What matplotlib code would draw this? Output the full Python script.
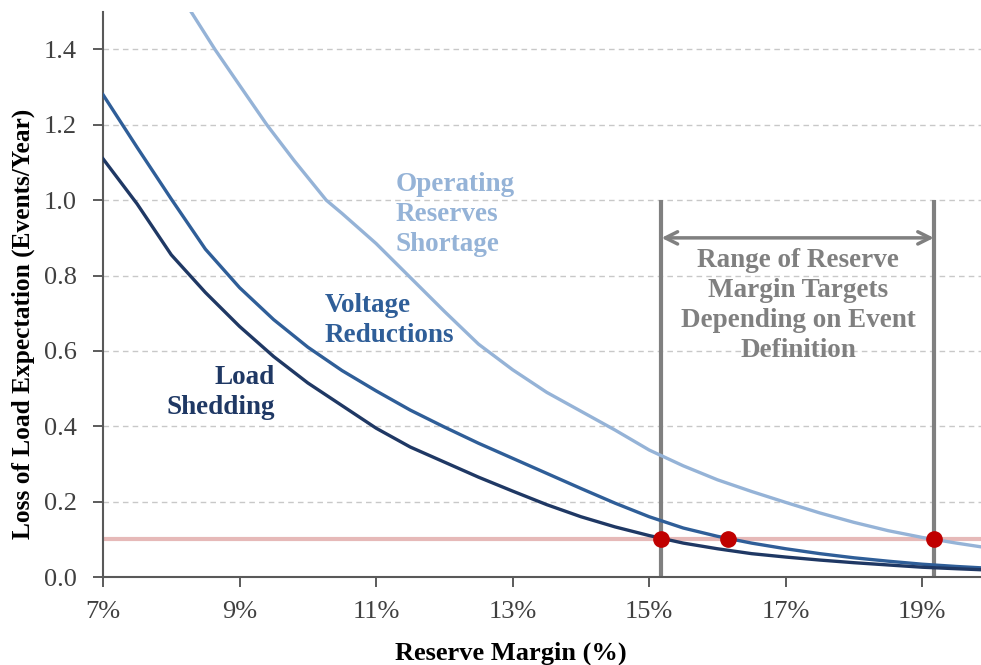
import matplotlib
matplotlib.use('Agg')
import matplotlib.pyplot as plt

plt.rcParams['font.family'] = ['Liberation Serif', 'DejaVu Serif']

# reserve margin (%) and loss of load expectation (events/year)
ls_x = [7, 7.5, 8, 8.5, 9, 9.5, 10, 10.5, 11, 11.5, 12, 12.5, 13, 13.5, 14,
        14.5, 15, 15.5, 16, 16.5, 17, 17.5, 18, 18.5, 19, 19.5, 19.9]
ls_y = [1.11, 0.99, 0.855, 0.755, 0.665, 0.585, 0.515, 0.455, 0.395, 0.345,
        0.305, 0.265, 0.228, 0.192, 0.16, 0.133, 0.11, 0.09, 0.075, 0.062,
        0.053, 0.045, 0.038, 0.032, 0.026, 0.022, 0.019]

vr_x = ls_x
vr_y = [1.28, 1.14, 1.003, 0.87, 0.768, 0.683, 0.61, 0.548, 0.494, 0.443,
        0.398, 0.355, 0.315, 0.275, 0.235, 0.196, 0.16, 0.13, 0.108, 0.09,
        0.075, 0.062, 0.051, 0.042, 0.034, 0.028, 0.024]

or_x = [8.29, 8.64, 9, 9.4, 9.8, 10.27, 10.5, 11, 11.5, 12, 12.5, 13, 13.5,
        14, 14.5, 15, 15.5, 16, 16.5, 17, 17.5, 18, 18.5, 19, 19.5, 19.9]
or_y = [1.5, 1.4, 1.305, 1.2, 1.105, 1.0, 0.965, 0.885, 0.795, 0.705, 0.618,
        0.55, 0.49, 0.44, 0.39, 0.337, 0.295, 0.258, 0.227, 0.198, 0.17,
        0.145, 0.123, 0.105, 0.09, 0.079]

target = 0.1
cross_x = [15.18, 16.15, 19.17]
range_lo, range_hi = 15.18, 19.17

xticks = [7, 9, 11, 13, 15, 17, 19]
yticks = [0.0, 0.2, 0.4, 0.6, 0.8, 1.0, 1.2, 1.4]

c_ls = '#1F3864'
c_vr = '#2F5E98'
c_or = '#95B3D7'
gray = '#808080'

fig = plt.figure(figsize=(9.81, 6.65), dpi=100)
ax = fig.add_axes([0.105, 0.1323, 0.895, 0.85])

for yv in yticks[1:]:
    ax.axhline(yv, color='#C8C8C8', lw=1, ls=(0, (4, 3)), zorder=0)

ax.axhline(target, color='#E6B9B8', lw=3, zorder=1)

ax.plot(or_x, or_y, color=c_or, lw=2.4, zorder=3)
ax.plot(vr_x, vr_y, color=c_vr, lw=2.4, zorder=3)
ax.plot(ls_x, ls_y, color=c_ls, lw=2.4, zorder=3)

ax.vlines([range_lo, range_hi], 0, 1.0, color=gray, lw=3, zorder=2)
ax.annotate('', xy=(range_lo, 0.9), xytext=(range_hi, 0.9),
            arrowprops=dict(arrowstyle='<->', color=gray, lw=2.5,
                            mutation_scale=22, shrinkA=0, shrinkB=0))
ax.text(17.18, 0.72, 'Range of Reserve\nMargin Targets\nDepending on Event\nDefinition',
        ha='center', va='center', color=gray, fontsize=19.5, fontweight='bold',
        linespacing=1.26)

ax.plot(cross_x, [target] * len(cross_x), 'o', color='#C00000', ms=11, zorder=5)

ax.text(11.28, 0.963, 'Operating\nReserves\nShortage', ha='left', va='center',
        color=c_or, fontsize=19.5, fontweight='bold', linespacing=1.26)
ax.text(10.25, 0.68, 'Voltage\nReductions', ha='left', va='center',
        color=c_vr, fontsize=19.5, fontweight='bold', linespacing=1.26)
ax.text(9.52, 0.49, 'Load\nShedding', ha='right', va='center',
        color=c_ls, fontsize=19.5, fontweight='bold', linespacing=1.26)

ax.set_xlim(7, 19.86)
ax.set_ylim(0, 1.5)
ax.set_xticks(xticks)
ax.set_xticklabels(['%d%%' % v for v in xticks])
ax.set_yticks(yticks)
ax.set_yticklabels(['%.1f' % v for v in yticks])
ax.tick_params(labelsize=19, colors='#404040', length=7, width=1.2)
ax.tick_params(axis='x', pad=10)
ax.tick_params(axis='y', pad=12)
for s in ['top', 'right']:
    ax.spines[s].set_visible(False)
for s in ['left', 'bottom']:
    ax.spines[s].set_color('#595959')
    ax.spines[s].set_linewidth(1.5)

ax.set_xlabel('Reserve Margin (%)', fontsize=19, fontweight='bold')
ax.xaxis.set_label_coords(0.464, -0.115)
ax.set_ylabel('Loss of Load Expectation (Events/Year)', fontsize=18.3,
              fontweight='bold')
ax.yaxis.set_label_coords(-0.0774, 0.448)

fig.savefig('out.png', dpi=100)
